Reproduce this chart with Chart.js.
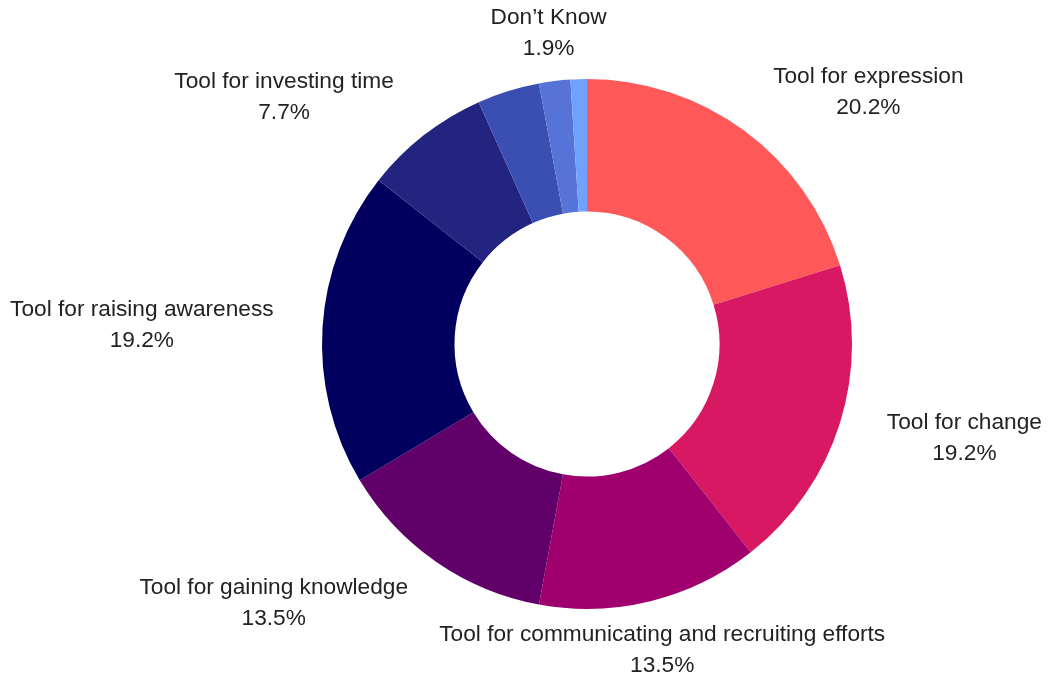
<!DOCTYPE html>
<html>
<head>
<meta charset="utf-8">
<script src="https://cdn.jsdelivr.net/npm/chart.js@4.4.1/dist/chart.umd.min.js"></script>
<style>
  html, body { margin: 0; padding: 0; background: #ffffff; }
  #wrap { width: 1048px; height: 673px; position: relative; }
</style>
</head>
<body>
<div id="wrap"><canvas id="chart" width="1048" height="673"></canvas></div>
<script>
// Share of responses per category (percent), clockwise from 12 o'clock
const categories = [
  'Tool for expression',
  'Tool for change',
  'Tool for communicating and recruiting efforts',
  'Tool for gaining knowledge',
  'Tool for raising awareness',
  'Tool for investing time',
  '',
  'Don\u2019t Know',
  ''
];
const shares = [20.2, 19.2, 13.5, 13.5, 19.2, 7.7, 3.8, 1.9, 1.0];
const sliceColors = [
  '#fe5859', '#d81862', '#a0006e', '#600068', '#02005e',
  '#222480', '#3a4fb1', '#5674d7', '#70a1ff'
];

// Draws "name / value%" outside each named slice
const outsideLabels = {
  id: 'outsideLabels',
  afterDatasetsDraw(chart) {
    const ctx = chart.ctx;
    const meta = chart.getDatasetMeta(0);
    const values = chart.data.datasets[0].data;
    ctx.save();
    ctx.font = '22.7px "Liberation Sans", Arial, sans-serif';
    ctx.fillStyle = '#222222';
    ctx.textBaseline = 'alphabetic';
    meta.data.forEach((arc, i) => {
      const name = chart.data.labels[i];
      if (!name) return;
      const p = arc.getProps(['x', 'y', 'startAngle', 'endAngle', 'outerRadius'], true);
      const mid = (p.startAngle + p.endAngle) / 2;
      const dx = Math.cos(mid), dy = Math.sin(mid);
      const r = p.outerRadius + 49;
      const cx = p.x + r * dx;
      const cy = p.y + r * dy;
      ctx.textAlign = dx > 0.4 ? 'left' : (dx < -0.4 ? 'right' : 'center');
      const pct = values[i].toFixed(1) + '%';
      if (ctx.textAlign === 'center') {
        ctx.fillText(name, cx, cy - 8);
        ctx.fillText(pct, cx, cy + 23);
      } else {
        // second line is centred under the first
        const w = ctx.measureText(name).width;
        const sx = ctx.textAlign === 'left' ? cx + w / 2 : cx - w / 2;
        ctx.fillText(name, cx, cy - 8);
        ctx.textAlign = 'center';
        ctx.fillText(pct, sx, cy + 23);
      }
    });
    ctx.restore();
  }
};

new Chart(document.getElementById('chart'), {
  type: 'doughnut',
  data: {
    labels: categories,
    datasets: [{
      data: shares,
      backgroundColor: sliceColors,
      borderWidth: 0
    }]
  },
  options: {
    responsive: false,
    animation: false,
    cutout: '50%',
    layout: { padding: { left: 322, right: 196, top: 79, bottom: 64 } },
    plugins: {
      legend: { display: false },
      tooltip: { enabled: false }
    }
  },
  plugins: [outsideLabels]
});
</script>
</body>
</html>
